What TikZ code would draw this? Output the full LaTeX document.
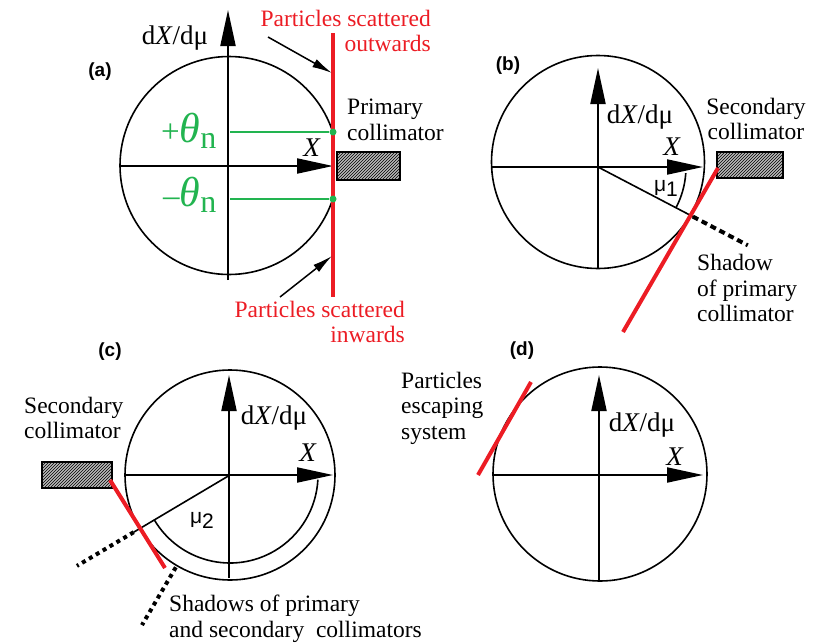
\documentclass[tikz,border=0pt]{standalone}
\usepackage{fontspec}
\setmainfont{Liberation Serif}
\setsansfont{Liberation Sans}
\usetikzlibrary{arrows.meta,patterns}
\definecolor{myred}{RGB}{236,28,36}
\definecolor{mygreen}{RGB}{34,180,80}
\begin{document}
\begin{tikzpicture}[x=1pt,y=-1pt,
  lbl/.style={inner sep=0pt,font=\rmfamily\fontsize{23.5}{25.5}\selectfont},
  redlbl/.style={lbl,text=myred},
  tag/.style={inner sep=0pt,font=\sffamily\bfseries\fontsize{19}{19}\selectfont},
  axlbl/.style={inner sep=0pt,font=\rmfamily\fontsize{27}{27}\selectfont},
  greenlbl/.style={inner sep=0pt,text=mygreen},
  ring/.style={line width=1.6pt},
  axis/.style={line width=2pt,-{Triangle[length=36pt,width=15pt]}},
  redline/.style={myred,line width=4pt},
  greenline/.style={mygreen,line width=2.5pt},
  shadowline/.style={line width=4pt,dash pattern=on 6pt off 4pt},
  coll/.style={draw,line width=2.5pt,fill=gray!55,postaction={pattern=north east lines}},
  pointer/.style={line width=1.5pt,-{Latex[length=20pt,width=9pt]}},
  dotmark/.style={circle,fill=mygreen,inner sep=0pt,minimum size=7pt},
  mulbl/.style={inner sep=0pt,font=\sffamily\fontsize{21}{21}\selectfont},
]
\useasboundingbox (0,0) rectangle (828,643);

% ---------------- (a) ----------------
\coordinate (ca) at (229,165.5);
\begin{scope}
  \clip (100,0) rectangle (333,300);
  \draw[ring] (ca) circle[radius=109];
\end{scope}
\coordinate (ayb) at (228,280);
\coordinate (ayt) at (228,10);
\coordinate (axl) at (120,166);
\coordinate (axr) at (333,166);
\draw[axis] (ayb) -- (ayt);
\draw[axis] (axl) -- (axr);
\node[coll,minimum width=63pt,minimum height=28pt,inner sep=0pt] (pcoll) at (368.5,166) {};
\coordinate (rat) at (333,33);
\coordinate (rab) at (333,297);
\draw[redline] (rat) -- (rab);
\coordinate (gp) at (230,132);
\coordinate (gm) at (230,199);
\node[dotmark] (dp) at (333,132) {};
\node[dotmark] (dm) at (333,199) {};
\draw[greenline] (gp) -- (dp);
\draw[greenline] (gm) -- (dm);
\node[greenlbl,anchor=base west] (thp) at (161,142) {\fontsize{33}{33}\selectfont +\fontsize{42}{42}\selectfont\itshape θ\/\fontsize{32}{32}\selectfont\upshape\raisebox{-6pt}{n}};
\node[greenlbl,anchor=base west] (thm) at (163,206) {\fontsize{33}{33}\selectfont –\fontsize{42}{42}\selectfont\itshape θ\/\fontsize{32}{32}\selectfont\upshape\raisebox{-6pt}{n}};
\node[axlbl] (adx) at (175,38) {d\textit{X}/dμ};
\node[axlbl] (ax) at (312,148) {\textit{X}};
\node[tag] (ta) at (100,72) {(a)};
\node[redlbl,anchor=east,align=right] (rto) at (431,31) {Particles scattered\\outwards};
\node[redlbl,anchor=east,align=right] (rti) at (405,322) {Particles scattered\\inwards};
\node[lbl,anchor=west,align=left] (prim) at (347,120) {Primary\\collimator};
\coordinate (p1s) at (268,37);
\coordinate (p1e) at (332,73);
\coordinate (p2s) at (280,297);
\coordinate (p2e) at (332,256);
\draw[pointer] (p1s) -- (p1e);
\draw[pointer] (p2s) -- (p2e);

% ---------------- (b) ----------------
\coordinate (cb) at (598,162);
\draw[ring] (cb) circle[radius=106.5];
\coordinate (bo) at (598,167);
\coordinate (byb) at (598,268);
\coordinate (byt) at (598,68);
\coordinate (bxl) at (491,167);
\coordinate (bxr) at (703,167);
\draw[axis] (byb) -- (byt);
\draw[axis] (bxl) -- (bxr);
\path (bo) ++(27.6:107) coordinate (bm1) ++(27.6:62) coordinate (bm2);
\draw[line width=1.6pt] (bo) -- (bm1);
\draw[shadowline] (bm1) -- (bm2);
\draw[line width=1.6pt] (bo) ++(4:88) arc[start angle=4,end angle=27.6,radius=88];
\node[mulbl] (mu1) at (666,188) {μ\raisebox{-5pt}{1}};
\node[coll,minimum width=66pt,minimum height=26pt,inner sep=0pt] (scb) at (750,165) {};
\coordinate (rbt) at (718,168);
\coordinate (rbb) at (623,332);
\draw[redline] (rbt) -- (rbb);
\node[axlbl] (bdx) at (640,117) {d\textit{X}/dμ};
\node[axlbl] (bx) at (672,147) {\textit{X}};
\node[tag] (tb) at (508,66) {(b)};
\node[lbl,align=center] (scbl) at (756,119) {Secondary\\collimator};
\node[lbl,anchor=west,align=left] (shb) at (697,288) {Shadow\\of primary\\collimator};

% ---------------- (c) ----------------
\coordinate (cc) at (230,475);
\draw[ring] (cc) circle[radius=105];
\coordinate (cyb) at (229,578);
\coordinate (cyt) at (229,375);
\coordinate (cxl) at (125,475);
\coordinate (cxr) at (333,475);
\draw[axis] (cyb) -- (cyt);
\draw[axis] (cxl) -- (cxr);
\path (cc) ++(149.3:112) coordinate (cm1) ++(149.3:66) coordinate (cm2);
\draw[line width=1.6pt] (cc) -- (cm1);
\draw[line width=4pt,dash pattern=on 4pt off 4pt] (cm1) -- (cm2);
\path (cc) ++(120.4:107) coordinate (cs1) ++(120.4:67) coordinate (cs2);
\draw[line width=4pt,dash pattern=on 4pt off 4pt] (cs1) -- (cs2);
\draw[line width=1.6pt] (cc) ++(149.3:88) arc[start angle=149.3,end angle=3,radius=88];
\node[mulbl] (mu2) at (202,520) {μ\raisebox{-5pt}{2}};
\node[coll,minimum width=70pt,minimum height=26pt,inner sep=0pt] (scc) at (77,475) {};
\coordinate (rct) at (110,480);
\coordinate (rcb) at (165,568);
\draw[redline] (rct) -- (rcb);
\node[axlbl] (cdx) at (274,418) {d\textit{X}/dμ};
\node[axlbl] (cx) at (308,453) {\textit{X}};
\node[tag] (tc) at (110,352) {(c)};
\node[lbl,anchor=west,align=left] (sccl) at (24,418) {Secondary\\collimator};
\node[lbl,anchor=west,align=left] (shc) at (169,619) {Shadows of primary\\and secondary\ \ collimators};

% ---------------- (d) ----------------
\coordinate (cd) at (600,474);
\draw[ring] (cd) circle[radius=107];
\coordinate (dyb) at (599,580);
\coordinate (dyt) at (599,375);
\coordinate (dxl) at (493,475);
\coordinate (dxr) at (703,475);
\draw[axis] (dyb) -- (dyt);
\draw[axis] (dxl) -- (dxr);
\coordinate (rdt) at (531,382);
\coordinate (rdb) at (478,475);
\draw[redline] (rdt) -- (rdb);
\node[axlbl] (ddx) at (642,425) {d\textit{X}/dμ};
\node[axlbl] (dx) at (675,457) {\textit{X}};
\node[tag] (td) at (522,351) {(d)};
\node[lbl,anchor=west,align=left] (esc) at (401,408) {Particles\\escaping\\system};
\end{tikzpicture}
\end{document}
